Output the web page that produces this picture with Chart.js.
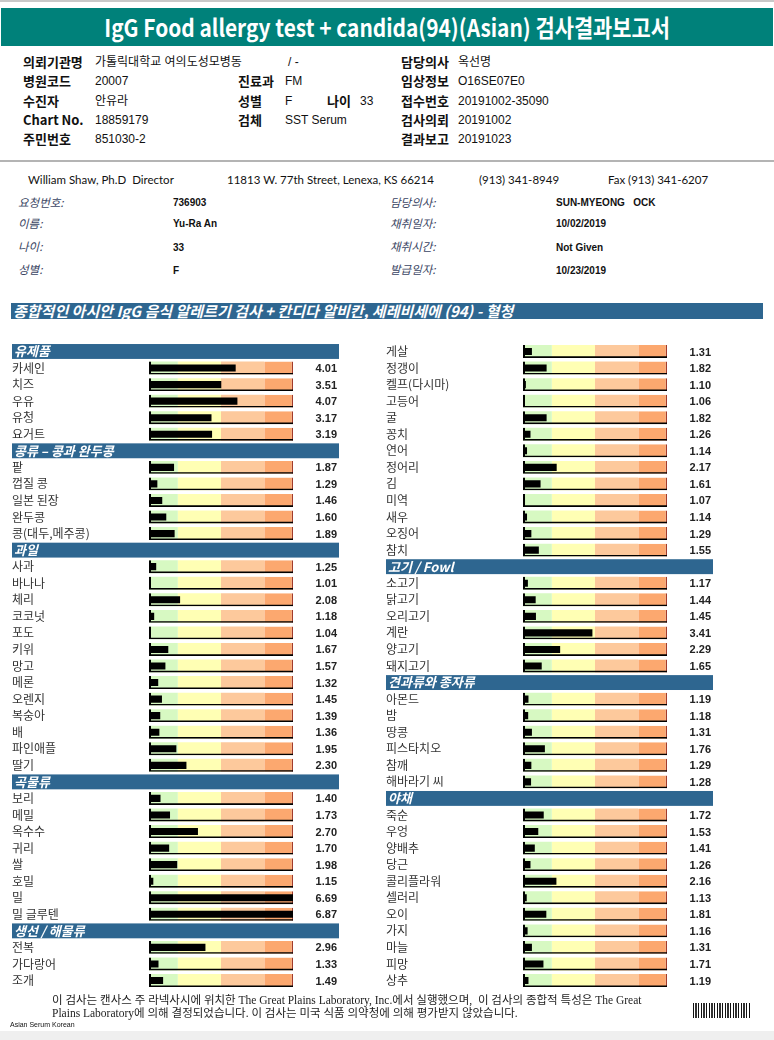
<!DOCTYPE html>
<html>
<head>
<meta charset="utf-8">
<script src="https://cdn.jsdelivr.net/npm/chart.js@4.4.1/dist/chart.umd.min.js"></script>
<style>
  body { margin: 0; width: 774px; height: 1040px; position: relative; overflow: hidden; background: #fff;
         font-family: 'Noto Sans CJK KR', sans-serif; color: #111; }
  .a { position: absolute; white-space: nowrap; line-height: 16px; }
  .lb { font-weight: bold; font-size: 13px; }
  .vl { font-size: 12px; font-family: 'Liberation Sans Narrow', 'Liberation Sans', 'Noto Sans CJK KR', sans-serif; }
  .pl { font-style: italic; font-size: 11.5px; color: #3a4563; }
  .pv { font-weight: bold; font-size: 10px; font-family: 'Liberation Sans', Arial, sans-serif; }
  .chartBox { position: absolute; top: 336px; width: 360px; height: 660px; }
</style>
</head>
<body>
<div class="a" style="left:0;top:0;width:774px;height:2px;background:#c8c8c8"></div>
<div class="a" style="left:1px;top:8px;width:772px;height:38px;background:#00817a;color:#fff;text-align:center;line-height:38px;font-weight:bold;font-size:24px"><span style="display:inline-block;transform:scaleX(0.87)">IgG Food allergy test + candida(94)(Asian) 검사결과보고서</span></div>

<!-- 의뢰 정보 -->
<div class="a lb" style="left:23px;top:54px">의뢰기관명</div>
<div class="a vl" style="left:95px;top:54px">가톨릭대학교 여의도성모병동</div>
<div class="a vl" style="left:288px;top:54px">/ -</div>
<div class="a lb" style="left:401px;top:54px">담당의사</div>
<div class="a vl" style="left:458px;top:54px">옥선명</div>

<div class="a lb" style="left:23px;top:73px">병원코드</div>
<div class="a vl" style="left:95px;top:73px">20007</div>
<div class="a lb" style="left:238px;top:73px">진료과</div>
<div class="a vl" style="left:285px;top:73px">FM</div>
<div class="a lb" style="left:401px;top:73px">임상정보</div>
<div class="a vl" style="left:458px;top:73px">O16SE07E0</div>

<div class="a lb" style="left:23px;top:93px">수진자</div>
<div class="a vl" style="left:95px;top:93px">안유라</div>
<div class="a lb" style="left:238px;top:93px">성별</div>
<div class="a vl" style="left:285px;top:93px">F</div>
<div class="a lb" style="left:327px;top:93px">나이</div>
<div class="a vl" style="left:360px;top:93px">33</div>
<div class="a lb" style="left:401px;top:93px">접수번호</div>
<div class="a vl" style="left:458px;top:93px">20191002-35090</div>

<div class="a lb" style="left:23px;top:112px">Chart No.</div>
<div class="a vl" style="left:95px;top:112px">18859179</div>
<div class="a lb" style="left:238px;top:112px">검체</div>
<div class="a vl" style="left:285px;top:112px">SST Serum</div>
<div class="a lb" style="left:401px;top:112px">검사의뢰</div>
<div class="a vl" style="left:458px;top:112px">20191002</div>

<div class="a lb" style="left:23px;top:131px">주민번호</div>
<div class="a vl" style="left:95px;top:131px">851030-2</div>
<div class="a lb" style="left:401px;top:131px">결과보고</div>
<div class="a vl" style="left:458px;top:131px">20191023</div>

<div class="a" style="left:0;top:160px;width:774px;height:2px;background:#b4b4b4"></div>

<!-- 연구소 정보 -->
<div class="a" style="left:28px;top:172px;font-family:Lato,sans-serif;font-size:11.5px">William Shaw, Ph.D&nbsp; Director</div>
<div class="a" style="left:227px;top:172px;font-family:Lato,sans-serif;font-size:11.5px">11813 W. 77th Street, Lenexa, KS 66214</div>
<div class="a" style="left:479px;top:172px;font-family:Lato,sans-serif;font-size:11.5px">(913) 341-8949</div>
<div class="a" style="left:608px;top:172px;font-family:Lato,sans-serif;font-size:11.5px">Fax (913) 341-6207</div>

<div class="a pl" style="left:18px;top:194px">요청번호:</div>
<div class="a pv" style="left:173px;top:195px">736903</div>
<div class="a pl" style="left:18px;top:215px">이름:</div>
<div class="a pv" style="left:173px;top:216px">Yu-Ra An</div>
<div class="a pl" style="left:18px;top:238px">나이:</div>
<div class="a pv" style="left:173px;top:240px">33</div>
<div class="a pl" style="left:18px;top:261px">성별:</div>
<div class="a pv" style="left:173px;top:263px">F</div>

<div class="a pl" style="left:390px;top:194px">담당의사:</div>
<div class="a pv" style="left:556px;top:195px">SUN-MYEONG&nbsp;&nbsp; OCK</div>
<div class="a pl" style="left:390px;top:215px">채취일자:</div>
<div class="a pv" style="left:556px;top:216px">10/02/2019</div>
<div class="a pl" style="left:390px;top:238px">채취시간:</div>
<div class="a pv" style="left:556px;top:240px">Not Given</div>
<div class="a pl" style="left:390px;top:261px">발급일자:</div>
<div class="a pv" style="left:556px;top:263px">10/23/2019</div>

<div class="a" style="left:11px;top:303px;width:750px;height:16px;background:#2e6690;color:#fff;font-style:italic;font-weight:bold;font-size:15px;line-height:16px;padding-left:2px">종합적인 아시안 IgG 음식 알레르기 검사 + 칸디다 알비칸, 세레비세에 (94) - 혈청</div>

<div class="chartBox" style="left:0"><canvas id="leftChart"></canvas></div>
<div class="chartBox" style="left:374px"><canvas id="rightChart"></canvas></div>

<div class="a" style="left:52px;top:994px;font-family:'Liberation Serif','Noto Sans CJK KR',serif;font-size:11.5px;line-height:13px;color:#222">이 검사는 캔사스 주 라넥사시에 위치한 The Great Plains Laboratory, Inc.에서 실행했으며,&nbsp; 이 검사의 종합적 특성은 The Great<br>Plains Laboratory에 의해 결정되었습니다. 이 검사는 미국 식품 의약청에 의해 평가받지 않았습니다.</div>
<div class="a" style="left:693px;top:1003px;width:58px;height:15px;background:repeating-linear-gradient(90deg,#111 0 1px,#fff 1px 2px,#333 2px 4px,#fff 4px 5px,#111 5px 6px,#fff 6px 8px)"></div>
<div class="a" style="left:10px;top:1020px;font-family:'Liberation Sans',Arial,sans-serif;font-size:7px;line-height:10px">Asian Serum Korean</div>
<div class="a" style="left:0;top:1031px;width:774px;height:9px;background:#efefef"></div>

<script>
// ---- data ----
const dairyLabels = ['카세인', '치즈', '우유', '유청', '요거트'];
const dairyValues = [4.01, 3.51, 4.07, 3.17, 3.19];

const legumeLabels = ['팥', '껍질 콩', '일본 된장', '완두콩', '콩(대두,메주콩)'];
const legumeValues = [1.87, 1.29, 1.46, 1.60, 1.89];

const fruitLabels = ['사과', '바나나', '체리', '코코넛', '포도', '키위', '망고', '메론', '오렌지', '복숭아', '배', '파인애플', '딸기'];
const fruitValues = [1.25, 1.01, 2.08, 1.18, 1.04, 1.67, 1.57, 1.32, 1.45, 1.39, 1.36, 1.95, 2.30];

const grainLabels = ['보리', '메밀', '옥수수', '귀리', '쌀', '호밀', '밀', '밀 글루텐'];
const grainValues = [1.40, 1.73, 2.70, 1.70, 1.98, 1.15, 6.69, 6.87];

const seafoodLabels = ['전복', '가다랑어', '조개', '게살', '정갱이', '켈프(다시마)', '고등어', '굴', '꽁치', '연어', '정어리', '김', '미역', '새우', '오징어', '참치'];
const seafoodValues = [2.96, 1.33, 1.49, 1.31, 1.82, 1.10, 1.06, 1.82, 1.26, 1.14, 2.17, 1.61, 1.07, 1.14, 1.29, 1.55];

const meatLabels = ['소고기', '닭고기', '오리고기', '계란', '양고기', '돼지고기'];
const meatValues = [1.17, 1.44, 1.45, 3.41, 2.29, 1.65];

const nutLabels = ['아몬드', '밤', '땅콩', '피스타치오', '참깨', '해바라기 씨'];
const nutValues = [1.19, 1.18, 1.31, 1.76, 1.29, 1.28];

const vegLabels = ['죽순', '우엉', '양배추', '당근', '콜리플라워', '셀러리', '오이', '가지', '마늘', '피망', '상추'];
const vegValues = [1.72, 1.53, 1.41, 1.26, 2.16, 1.13, 1.81, 1.16, 1.31, 1.71, 1.19];

// reference bands (scale values)
const bandEdges = [1, 2, 3.5, 5, 6];
const bandColors = ['#d7f9c2', '#ffffb4', '#fdc99c', '#fca86f'];

// seafood runs over into the right column after 3 rows
const leftSections = [
    { title: '유제품', labels: dairyLabels, values: dairyValues },
    { title: '콩류 – 콩과 완두콩', labels: legumeLabels, values: legumeValues },
    { title: '과일', labels: fruitLabels, values: fruitValues },
    { title: '곡물류', labels: grainLabels, values: grainValues },
    { title: '생선 / 해물류', labels: seafoodLabels.slice(0, 3), values: seafoodValues.slice(0, 3) }
];
const rightSections = [
    { title: null, labels: seafoodLabels.slice(3), values: seafoodValues.slice(3) },
    { title: '고기 / Fowl', labels: meatLabels, values: meatValues },
    { title: '견과류와 종자류', labels: nutLabels, values: nutValues },
    { title: '야채', labels: vegLabels, values: vegValues }
];

function buildRows(sections) {
    const rows = { labels: [], values: [], header: [] };
    sections.forEach(s => {
        if (s.title) {
            rows.labels.push(s.title);
            rows.values.push(null);
            rows.header.push(true);
        }
        s.labels.forEach((l, i) => {
            rows.labels.push(l);
            rows.values.push(s.values[i]);
            rows.header.push(false);
        });
    });
    return rows;
}

// section header bands + value text
const rowDecor = {
    id: 'rowDecor',
    beforeDraw(chart, args, opts) {
        const { ctx, chartArea } = chart;
        const y = chart.scales.y;
        const rows = opts.rows;
        const pitch = (y.bottom - y.top) / rows.labels.length;
        ctx.save();
        rows.header.forEach((h, i) => {
            if (!h) return;
            const cy = y.getPixelForValue(i);
            ctx.fillStyle = '#2e6690';
            ctx.fillRect(chartArea.left - 137, cy - pitch * 0.45, 327, pitch * 0.9);
            ctx.fillStyle = '#fff';
            ctx.font = 'italic bold 13px "Noto Sans CJK KR"';
            ctx.textBaseline = 'middle';
            ctx.textAlign = 'left';
            ctx.fillText(rows.labels[i], chartArea.left - 135, cy);
        });
        ctx.restore();
    },
    afterDatasetsDraw(chart, args, opts) {
        const { ctx, chartArea } = chart;
        const y = chart.scales.y;
        const rows = opts.rows;
        ctx.save();
        ctx.font = 'bold 11px "Liberation Sans", Arial';
        ctx.fillStyle = '#222';
        ctx.textAlign = 'right';
        ctx.textBaseline = 'middle';
        rows.values.forEach((v, i) => {
            if (v === null) return;
            ctx.fillText(v.toFixed(2), chartArea.right + 44, y.getPixelForValue(i) + 1);
        });
        ctx.restore();
    }
};

function makeChart(id, sections) {
    const rows = buildRows(sections);
    const bandSets = bandColors.map((c, b) => ({
        data: rows.header.map(h => h ? null : [bandEdges[b], bandEdges[b + 1]]),
        backgroundColor: c,
        borderColor: '#a23b2a',
        borderWidth: b === bandColors.length - 1 ? { right: 1.3, left: 0, top: 0, bottom: 0 } : 0,
        borderSkipped: false,
        barPercentage: 0.78,
        order: 2
    }));
    new Chart(document.getElementById(id), {
        type: 'bar',
        data: {
            labels: rows.labels,
            datasets: [
                ...bandSets,
                {
                    data: rows.values.map(v => v === null ? null : [bandEdges[0], v]),
                    backgroundColor: '#000',
                    barPercentage: 0.43,
                    clip: 0,
                    order: 1
                },
                {
                    data: rows.header.map(h => h ? null : [bandEdges[0], bandEdges[bandEdges.length - 1]]),
                    backgroundColor: 'rgba(0,0,0,0)',
                    borderColor: '#000',
                    borderWidth: { left: 2, bottom: 1.6, top: 0, right: 0 },
                    borderSkipped: false,
                    barPercentage: 0.78,
                    order: 0
                }
            ]
        },
        options: {
            indexAxis: 'y',
            responsive: true,
            maintainAspectRatio: false,
            animation: false,
            datasets: { bar: { grouped: false, categoryPercentage: 1 } },
            layout: { padding: { left: 12, right: 67, top: 6, bottom: 7 } },
            scales: {
                x: { min: bandEdges[0], max: bandEdges[bandEdges.length - 1], display: false },
                y: {
                    grid: { display: false },
                    border: { display: false },
                    afterFit: s => { s.width = 137; },
                    ticks: {
                        autoSkip: false,
                        crossAlign: 'far',
                        padding: 0,
                        color: '#333',
                        font: { family: 'Noto Sans CJK KR', size: 12 },
                        callback: (v, i) => rows.header[i] ? '' : rows.labels[i]
                    }
                }
            },
            plugins: {
                legend: { display: false },
                tooltip: { enabled: false },
                rowDecor: { rows: rows }
            }
        },
        plugins: [rowDecor]
    });
}

makeChart('leftChart', leftSections);
makeChart('rightChart', rightSections);
</script>
</body>
</html>
